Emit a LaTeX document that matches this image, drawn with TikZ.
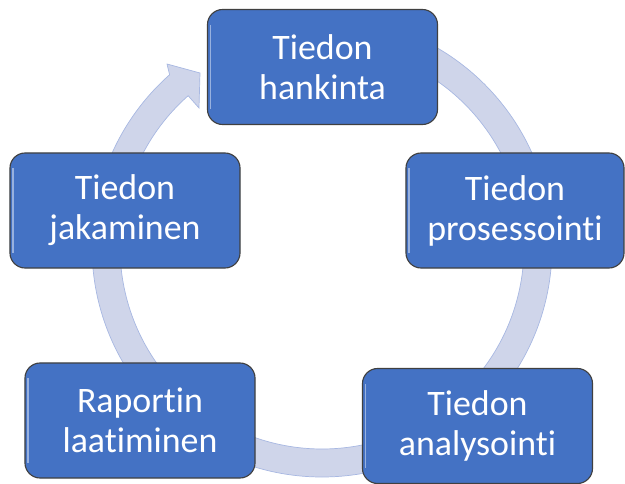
\documentclass[tikz,border=0pt]{standalone}
\usepackage{fontspec}
\setmainfont[Ligatures={NoCommon}]{Carlito}
\usetikzlibrary{calc}
\definecolor{boxblue}{RGB}{68,114,196}
\definecolor{boxedge}{RGB}{64,64,64}
\definecolor{ringfill}{RGB}{207,213,234}
\definecolor{ringedge}{RGB}{168,184,226}

\begin{document}
\begin{tikzpicture}[x=0.025cm,y=0.025cm,
  stage/.style={draw=boxedge,line width=0.8pt,fill=boxblue,rounded corners=0.38cm,
    minimum width=5.75cm,minimum height=2.875cm,inner sep=0pt,
    text=white,align=center,font=\fontsize{25.5}{28.5}\selectfont,
    path picture={\draw[white!45!boxblue,line width=1.2pt]
      ([xshift=2.2pt,yshift=-11pt]path picture bounding box.north west) --
      ([xshift=2.2pt,yshift=11pt]path picture bounding box.south west);}}]
\path[use as bounding box,clip] (0,0) rectangle (625,483);
\coordinate (c) at (322,236);

% the cycle ring with its head
\filldraw[fill=ringfill,draw=ringedge,line width=0.5pt]
  ([shift={(90:230)}]c) arc[start angle=90,end angle=-228.5,radius=230]
  -- (167,419) -- (200,410) -- (199,375)
  -- ([shift={(-228.5:202)}]c) arc[start angle=-228.5,end angle=90,radius=202] -- cycle;

\node[stage] (hankinta) at (322.5,416) {Tiedon\\hankinta};
\node[stage,minimum width=5.45cm] (prosessointi) at (515,272.5) {Tiedon\\prosessointi};
\node[stage] (analysointi) at (477.5,57) {Tiedon\\analysointi};
\node[stage] (laatiminen) at (140,62.5) {Raportin\\laatiminen};
\node[stage] (jakaminen) at (125,272.5) {Tiedon\\jakaminen};
\end{tikzpicture}
\end{document}
